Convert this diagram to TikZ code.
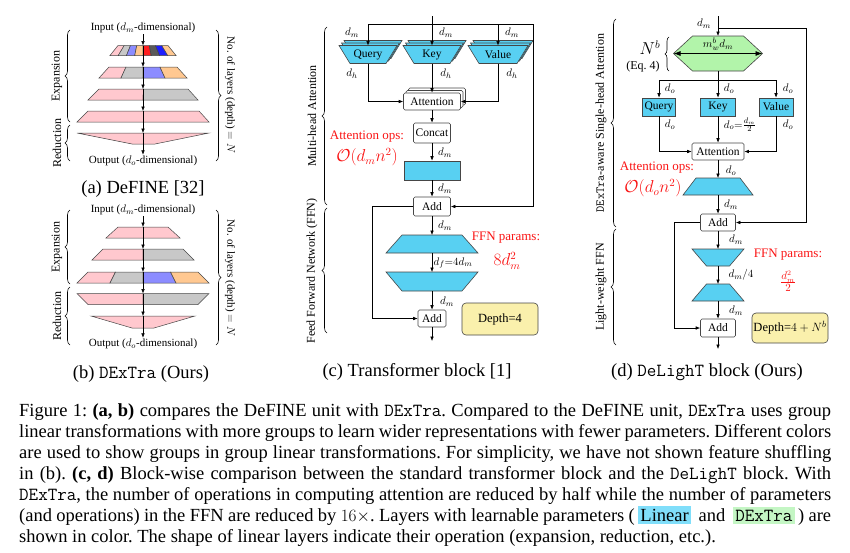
\documentclass[tikz,border=0pt]{standalone}
\usepackage{fontspec}
\setmainfont{Liberation Serif}
\usetikzlibrary{arrows.meta,shapes.geometric,shadows,decorations.pathreplacing,calc}
\definecolor{linblue}{RGB}{88,208,242}
\definecolor{dexgreen}{RGB}{178,244,170}
\definecolor{depthy}{RGB}{250,240,172}
\definecolor{gpink}{RGB}{255,200,206}
\definecolor{ggray}{RGB}{200,200,200}
\definecolor{glblue}{RGB}{140,140,255}
\definecolor{gorange}{RGB}{255,200,145}
\definecolor{gred}{RGB}{255,30,30}
\definecolor{gdgray}{RGB}{90,90,90}
\definecolor{gdblue}{RGB}{30,30,255}
\definecolor{edge}{RGB}{70,70,70}
\definecolor{opred}{RGB}{250,20,20}
\definecolor{capblue}{RGB}{128,222,250}
\definecolor{capgreen}{RGB}{196,246,196}
% yt yb tl tr bl br {colours} n
\newcommand{\glayer}[8]{%
  \foreach \gcol [count=\gi from 0] in {#7} {%
    \pgfmathsetmacro{\gxa}{#3+(#4-#3)*\gi/#8}%
    \pgfmathsetmacro{\gxb}{#3+(#4-#3)*(\gi+1)/#8}%
    \pgfmathsetmacro{\gxc}{#5+(#6-#5)*\gi/#8}%
    \pgfmathsetmacro{\gxd}{#5+(#6-#5)*(\gi+1)/#8}%
    \filldraw[fill=\gcol, draw=edge, line width=0.5pt] (\gxa,#1) -- (\gxb,#1) -- (\gxd,#2) -- (\gxc,#2) -- cycle;
  }%
}
% [opts] node, top inset, bottom inset, fill
\newcommand{\trapshape}[5][]{%
  \filldraw[fill=#5, draw=edge, line width=0.6pt, #1] ($(#2.north west)+(#3,0)$) -- ($(#2.north east)+(-#3,0)$) -- ($(#2.south east)+(-#4,0)$) -- ($(#2.south west)+(#4,0)$) -- cycle;}
\newcommand{\stackedtrap}[4]{%
  \trapshape[transform canvas={shift={(5pt,5pt)}}]{#1}{#2}{#3}{#4}%
  \trapshape[transform canvas={shift={(2.5pt,2.5pt)}}]{#1}{#2}{#3}{#4}%
  \trapshape{#1}{#2}{#3}{#4}}
\begin{document}
\begin{tikzpicture}[x=1pt,y=-1pt,
  lbl/.style={font=\fontsize{11}{13}\selectfont, inner sep=1pt},
  arr/.style={-{Latex[length=4.5pt,width=3.6pt]}, line width=0.6pt},
  plain/.style={line width=0.6pt},
  boxn/.style={draw=edge, fill=white, rounded corners=1.5pt, line width=0.6pt, inner sep=0pt, font=\fontsize{11.5}{13}\selectfont},
  linrect/.style={draw=edge, fill=linblue, line width=0.6pt, inner sep=0pt, font=\fontsize{11.5}{13}\selectfont},
  tbox/.style={inner sep=0pt, outer sep=0pt},
  ttext/.style={inner sep=0pt, font=\fontsize{11.5}{13}\selectfont},
  redlbl/.style={text=opred, font=\fontsize{13}{15}\selectfont, inner sep=0pt},
  redmath/.style={text=opred, font=\fontsize{16}{18}\selectfont, inner sep=0pt},
  sidelbl/.style={rotate=90, font=\fontsize{12}{14}\selectfont, inner sep=0pt},
  rsidelbl/.style={rotate=-90, font=\fontsize{11}{13}\selectfont, inner sep=0pt},
  brc/.style={decorate, decoration={brace, amplitude=5pt}, line width=0.6pt},
  subcap/.style={font=\fontsize{18.5}{21}\selectfont, inner sep=0pt},
  depthbox/.style={draw=edge, fill=depthy, rounded corners=4pt, line width=0.6pt, font=\fontsize{12.5}{14}\selectfont, inner sep=0pt},
  stack/.style={double copy shadow={shadow xshift=2.5pt, shadow yshift=2.5pt}}
]
\useasboundingbox (0,0) rectangle (850,552);

%% ---------------- (a) DeFINE ----------------
\node[lbl] (ina) at (143,28) {Input ($d_m$-dimensional)};
\glayer{45.5}{55.5}{118}{168}{110}{176}{gpink,ggray,glblue,gorange,gred,gdgray,gdblue,gorange}{8}
\glayer{67}{78}{109}{177}{99}{187}{gpink,ggray,glblue,gorange}{4}
\glayer{89}{100}{99}{188}{88}{198}{gpink,ggray}{2}
\glayer{111}{122}{88}{199}{77}{209}{gpink}{1}
\glayer{133}{144}{77}{209}{132}{155}{gpink}{1}
\node[lbl] (outa) at (143,161) {Output ($d_o$-dimensional)};
\coordinate (a1) at (143,45.5);
\coordinate (a2) at (143,67);
\coordinate (a3) at (143,89);
\coordinate (a4) at (143,111);
\coordinate (a5) at (143,133);
\draw[arr] (ina) -- (a1);
\draw[arr] (a1) -- (a2);
\draw[arr] (a2) -- (a3);
\draw[arr] (a3) -- (a4);
\draw[arr] (a4) -- (a5);
\draw[arr] (a5) -- (outa);
\draw[brc] (70,122) -- (70,30);
\node[sidelbl] at (57,76) {Expansion};
\draw[brc] (70,161) -- (70,125);
\node[sidelbl] at (57,143) {Reduction};
\draw[brc] (216,30) -- (216,161);
\node[rsidelbl] at (230,95) {No. of layers (depth) $=N$};
\node[subcap] at (143,189) {(a) DeFINE [32]};

%% ---------------- (b) DExTra ----------------
\node[lbl] (inb) at (143,210) {Input ($d_m$-dimensional)};
\glayer{227}{238}{118}{168}{106}{180}{gpink}{1}
\glayer{249}{260}{103}{183}{92}{194}{gpink,ggray}{2}
\glayer{272}{283}{88}{198}{77}{209}{gpink,ggray,glblue,gorange}{4}
\glayer{293.5}{304.5}{77}{209}{88}{198}{gpink,ggray}{2}
\glayer{316}{328}{91}{195}{132}{154}{gpink}{1}
\node[lbl] (outb) at (143,344) {Output ($d_o$-dimensional)};
\coordinate (b1) at (143,227);
\coordinate (b2) at (143,249);
\coordinate (b3) at (143,272);
\coordinate (b4) at (143,293.5);
\coordinate (b5) at (143,316);
\draw[arr] (inb) -- (b1);
\draw[arr] (b1) -- (b2);
\draw[arr] (b2) -- (b3);
\draw[arr] (b3) -- (b4);
\draw[arr] (b4) -- (b5);
\draw[arr] (b5) -- (outb);
\draw[brc] (70,284) -- (70,210);
\node[sidelbl] at (57,247) {Expansion};
\draw[brc] (70,345) -- (70,287);
\node[sidelbl] at (57,316) {Reduction};
\draw[brc] (216,210) -- (216,345);
\node[rsidelbl] at (230,278) {No. of layers (depth) $=N$};
\node[subcap] at (141,374) {(b) \texttt{DExTra} (Ours)};

%% ---------------- (c) Transformer block ----------------
\coordinate (ctop) at (432,16);
\coordinate (cjq) at (368,24);
\coordinate (cjv) at (498,24);
\coordinate (cjr) at (533,24);
\node[tbox, minimum width=58pt, minimum height=18pt] (cq) at (368,54.5) {};
\node[tbox, minimum width=58pt, minimum height=18pt] (ck) at (432,54.5) {};
\node[tbox, minimum width=60pt, minimum height=18pt] (cv) at (498,54.5) {};
\stackedtrap{cq}{0}{11}{linblue}
\stackedtrap{ck}{0}{11}{linblue}
\stackedtrap{cv}{0}{11}{linblue}
\node[ttext] (cqt) at (cq) {Query};
\node[ttext] (ckt) at (ck) {Key};
\node[ttext] (cvt) at (cv) {Value};
\node[boxn, stack, minimum width=57pt, minimum height=17pt] (catt) at (432,101.5) {Attention};
\node[boxn, minimum width=37pt, minimum height=20pt] (ccat) at (432,133) {Concat};
\node[linrect, minimum width=56pt, minimum height=19pt] (clin) at (432,170.5) {};
\node[boxn, minimum width=37pt, minimum height=19pt] (cadd1) at (432,206.5) {Add};
\node[tbox, minimum width=92pt, minimum height=18pt] (cf1) at (432,244) {};
\trapshape{cf1}{16}{0}{linblue}
\node[tbox, minimum width=92pt, minimum height=19pt] (cf2) at (432,281.5) {};
\trapshape{cf2}{0}{16}{linblue}
\node[boxn, minimum width=28pt, minimum height=17pt] (cadd2) at (432,318.5) {Add};
\coordinate (cout) at (432,341);
\coordinate (cres) at (372,206.5);
\draw[plain] (cjq) -- (cjr);
\draw[arr] (ctop) -- (ck);
\draw[arr] (cjq) -- (cq);
\draw[arr] (cjv) -- (cv);
\draw[arr] (cjr) |- (cadd1);
\draw[arr] (cq) |- (catt);
\draw[arr] (ck) -- (catt);
\draw[arr] (cv) |- (catt);
\draw[arr] (catt) -- (ccat);
\draw[arr] (ccat) -- (clin);
\draw[arr] (clin) -- (cadd1);
\draw[arr] (cadd1) -- (cf1);
\draw[arr] (cf1) -- (cf2);
\draw[arr] (cf2) -- (cadd2);
\draw[arr] (cadd2) -- (cout);
\draw[arr] (cadd1) -- (cres) |- (cadd2);
\node[lbl] at (352,33) {$d_m$};
\node[lbl] at (446,33) {$d_m$};
\node[lbl] at (512,33) {$d_m$};
\node[lbl] at (352,74) {$d_h$};
\node[lbl] at (446,74) {$d_h$};
\node[lbl] at (512,74) {$d_h$};
\node[lbl] at (445,153) {$d_m$};
\node[lbl] at (445,189) {$d_m$};
\node[lbl] at (445,226) {$d_m$};
\node[lbl] at (453,263) {$d_f{=}4d_m$};
\node[lbl] at (447,302) {$d_m$};
\node[redlbl] at (367,137) {Attention ops:};
\node[redmath] at (367,157) {$\mathcal{O}(d_mn^2)$};
\node[redlbl] at (506,238) {FFN params:};
\node[redmath] at (507,261) {$8d_m^2$};
\node[depthbox, minimum width=76pt, minimum height=32pt] (cdepth) at (500,319) {Depth=4};
\draw[brc] (327,205) -- (327,27);
\node[sidelbl] at (312,116) {Multi-head Attention};
\draw[brc] (327,333) -- (327,208);
\node[sidelbl] at (312,271) {Feed Forward Network (FFN)};
\node[subcap] at (417,372) {(c) Transformer block [1]};

%% ---------------- (d) DeLighT block ----------------
\coordinate (dtop) at (718,16);
\coordinate (dj) at (718,28);
\coordinate (djr) at (806,28);
\node[tbox, minimum width=89pt, minimum height=35pt] (dhex) at (718,53.5) {};
\filldraw[fill=dexgreen, draw=edge, line width=0.6pt] ($(dhex.north west)+(19,0)$) -- ($(dhex.north east)+(-19,0)$) -- (dhex.east) -- ($(dhex.south east)+(-19,0)$) -- ($(dhex.south west)+(19,0)$) -- (dhex.west) -- cycle;
\draw[{Latex[length=7pt,width=5pt]}-{Latex[length=7pt,width=5pt]}, line width=0.8pt] (dhex.west) -- (dhex.east);
\node[lbl] (dhexlbl) at (718,44.5) {$m_w^b d_m$};
\node[lbl, font=\fontsize{16}{18}\selectfont] (dnb) at (650,48) {$N^b$};
\node[lbl, font=\fontsize{12}{14}\selectfont] (deq) at (643,67) {(Eq.~4)};
\draw[brc, decoration={brace, amplitude=4pt}] (669,71) -- (669,37);
\coordinate (dj2) at (718,80);
\coordinate (djq) at (659,80);
\coordinate (djv) at (776,80);
\node[linrect, minimum width=33pt, minimum height=18pt] (dq) at (659,107) {Query};
\node[linrect, minimum width=35pt, minimum height=18pt] (dk) at (718,107) {Key};
\node[linrect, minimum width=34pt, minimum height=18pt] (dv) at (776,107) {Value};
\node[boxn, minimum width=52pt, minimum height=17pt] (datt) at (718,151.5) {Attention};
\node[tbox, minimum width=70pt, minimum height=17pt] (dproj) at (718,186.5) {};
\trapshape{dproj}{13}{0}{linblue}
\node[boxn, minimum width=35pt, minimum height=17pt] (dadd1) at (718,222.5) {Add};
\node[tbox, minimum width=52pt, minimum height=17pt] (df1) at (718,257.5) {};
\trapshape{df1}{0}{14.5}{linblue}
\node[tbox, minimum width=52pt, minimum height=17pt] (df2) at (718,292.5) {};
\trapshape{df2}{14.5}{0}{linblue}
\node[boxn, minimum width=35pt, minimum height=18pt] (dadd2) at (718,328) {Add};
\coordinate (dout) at (718,349);
\coordinate (dres) at (674,222.5);
\node[depthbox, minimum width=76pt, minimum height=30pt] (ddepth) at (790,328) {Depth=$4+N^b$};
\draw[arr] (dtop) -- (dhex);
\draw[plain] (dj) -- (djr);
\draw[arr] (djr) |- (dadd1);
\draw[plain] (dhex) -- (dj2);
\draw[plain] (djq) -- (djv);
\draw[arr] (djq) -- (dq);
\draw[arr] (dj2) -- (dk);
\draw[arr] (djv) -- (dv);
\draw[arr] (dq) |- (datt);
\draw[arr] (dk) -- (datt);
\draw[arr] (dv) |- (datt);
\draw[arr] (datt) -- (dproj);
\draw[arr] (dproj) -- (dadd1);
\draw[arr] (dadd1) -- (df1);
\draw[arr] (df1) -- (df2);
\draw[arr] (df2) -- (dadd2);
\draw[arr] (dadd2) -- (dout);
\draw[arr] (dadd1) -- (dres) |- (dadd2);
\node[lbl] at (704,24) {$d_m$};
\node[lbl] at (670,89) {$d_o$};
\node[lbl] at (729,89) {$d_o$};
\node[lbl] at (788,89) {$d_o$};
\node[lbl] at (670,125) {$d_o$};
\node[lbl] at (740,125) {$d_o{=}\frac{d_m}{2}$};
\node[lbl] at (788,125) {$d_o$};
\node[lbl] at (731,171) {$d_o$};
\node[lbl] at (731,205) {$d_m$};
\node[lbl] at (736,240) {$d_m$};
\node[lbl] at (741,275) {$d_m/4$};
\node[lbl] at (736,311) {$d_m$};
\node[redlbl] at (657,168) {Attention ops:};
\node[redmath] at (653,188) {$\mathcal{O}(d_on^2)$};
\node[redlbl] at (788,255) {FFN params:};
\node[redlbl, font=\fontsize{15}{17}\selectfont] at (788,281) {$\frac{d_m^2}{2}$};
\draw[brc] (616,227) -- (616,19);
\node[sidelbl] at (601,123) {\texttt{DExTra}-aware Single-head Attention};
\draw[brc] (616,345) -- (616,229);
\node[sidelbl] at (601,287) {Light-weight FFN};
\node[subcap] at (707,372) {(d) \texttt{DeLighT} block (Ours)};

%% ---------------- caption ----------------
\node[anchor=north west, text width=812pt, align=justify, inner sep=0pt, font=\fontsize{18.5}{21}\selectfont] (cap) at (19,403) {\frenchspacing\tolerance=10000\emergencystretch=2em\fboxsep=2.5pt
Figure 1: {\bfseries (a, b)} compares the DeFINE unit with \texttt{DExTra}. Compared to the DeFINE unit, \texttt{DExTra} uses group\linebreak
linear transformations with more groups to learn wider representations with fewer parameters. Different colors\linebreak
are used to show groups in group linear transformations. For simplicity, we have not shown feature shuffling\linebreak
in (b). {\bfseries (c, d)} Block-wise comparison between the standard transformer block and the \texttt{DeLighT} block. With\linebreak
\texttt{DExTra}, the number of operations in computing attention are reduced by half while the number of parameters\linebreak
(and operations) in the FFN are reduced by $16\times$. Layers with learnable parameters (\,\colorbox{capblue}{Linear}\, and \,\colorbox{capgreen}{\texttt{DExTra}}\,) are\linebreak
shown in color. The shape of linear layers indicate their operation (expansion, reduction, etc.).};
\end{tikzpicture}
\end{document}
